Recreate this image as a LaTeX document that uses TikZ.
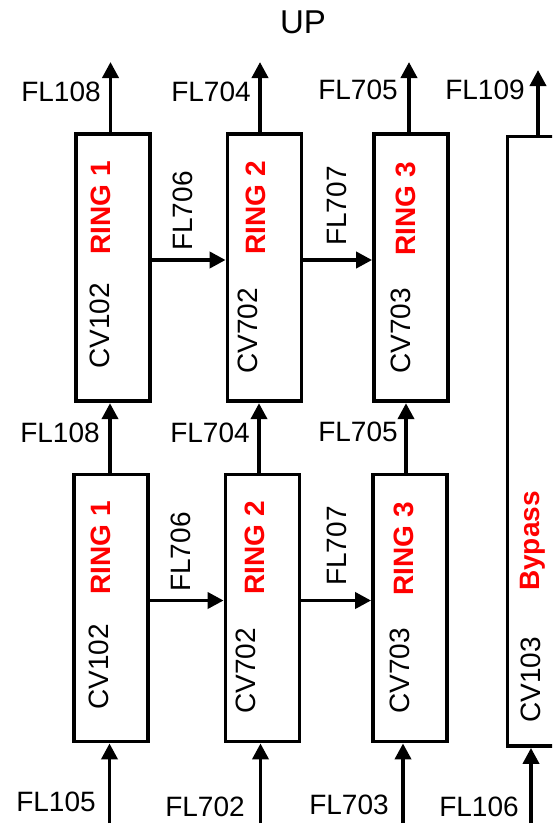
\documentclass[tikz,border=0pt]{standalone}
\usepackage{fontspec}
\setmainfont{Liberation Sans}
\usetikzlibrary{arrows.meta,calc}
\begin{document}
\begin{tikzpicture}[x=1pt,y=-1pt,
  box/.style={draw, line width=3.8pt, minimum width=74pt, minimum height=267pt, inner sep=0pt},
  lab/.style={font=\fontsize{28}{30}\selectfont, inner sep=0pt, text=black},
  vlab/.style={lab, rotate=90},
  ring/.style={font=\fontsize{28}{30}\selectfont\bfseries, text=red, rotate=90, inner sep=0pt},
  arr/.style={line width=3.8pt, -{Triangle[length=16pt,width=16pt]}},
]
\useasboundingbox (0,0) rectangle (552,825);
\clip (0,0) rectangle (552,825);

% boxes
\node[box] (t1) at (113,267.75) {};
\node[box] (t2) at (264.5,267.75) {};
\node[box] (t3) at (411,267.75) {};
\node[box] (b1) at (111,608) {};
\node[box] (b2) at (262.5,608) {};
\node[box] (b3) at (410,608) {};
\node[box, minimum width=150pt, minimum height=609.5pt] (bp) at (582.5,441.25) {};

% texts inside boxes
\node[ring] (r1t) at (101,208) {RING 1};
\node[vlab] (c1t) at (100,326) {CV102};
\node[ring] (r2t) at (256,208) {RING 2};
\node[vlab] (c2t) at (248,331) {CV702};
\node[ring] (r3t) at (406,209) {RING 3};
\node[vlab] (c3t) at (401,331) {CV703};
\node[ring] (r1b) at (101,548) {RING 1};
\node[vlab] (c1b) at (99,667) {CV102};
\node[ring] (r2b) at (255,548) {RING 2};
\node[vlab] (c2b) at (246,671) {CV702};
\node[ring] (r3b) at (404,549) {RING 3};
\node[vlab] (c3b) at (400,671) {CV703};
\node[ring] (rbp) at (533,541) {Bypass};
\node[vlab] (cbp) at (531,680) {CV103};

% title
\node[lab, font=\fontsize{33}{35}\selectfont] (up) at (303,22) {UP};

% free ends
\coordinate (o1) at (110.5,62);
\coordinate (o2) at (260,62);
\coordinate (o3) at (409,62);
\coordinate (o4) at (538,70);
\coordinate (m1) at (110,403);
\coordinate (m2) at (259,403);
\coordinate (m3) at (406,403);
\coordinate (i1) at (109.5,823);
\coordinate (i2) at (260.5,823);
\coordinate (i3) at (403,823);
\coordinate (i4) at (531,823);

% outputs
\draw[arr] (o1 |- t1.north) -- (o1);
\draw[arr] (o2 |- t2.north) -- (o2);
\draw[arr] (o3 |- t3.north) -- (o3);
\draw[arr] (o4 |- bp.north) -- (o4);
% middle
\draw[arr] (m1 |- b1.north) -- (m1 |- t1.south);
\draw[arr] (m2 |- b2.north) -- (m2 |- t2.south);
\draw[arr] (m3 |- b3.north) -- (m3 |- t3.south);
% inputs
\draw[arr] (i1) -- (i1 |- b1.south);
\draw[arr] (i2) -- (i2 |- b2.south);
\draw[arr] (i3) -- (i3 |- b3.south);
\draw[arr] (i4) -- (i4 |- bp.south);
% horizontal
\draw[arr] ([yshift=7.75pt]t1.east) -- ([yshift=7.75pt]t2.west);
\draw[arr] ([yshift=7.75pt]t2.east) -- ([yshift=7.75pt]t3.west);
\draw[arr] ([yshift=7.5pt]b1.east) -- ([yshift=7.5pt]b2.west);
\draw[arr] ([yshift=7.5pt]b2.east) -- ([yshift=7.5pt]b3.west);

% flow labels
\node[lab] (l108t) at (61,92) {FL108};
\node[lab] (l704t) at (211,92) {FL704};
\node[lab] (l705t) at (358,90) {FL705};
\node[lab] (l109t) at (485,90) {FL109};
\node[lab] (l108m) at (60,433) {FL108};
\node[lab] (l704m) at (210,433) {FL704};
\node[lab] (l705m) at (358,432) {FL705};
\node[lab] (l105) at (56,802) {FL105};
\node[lab] (l702) at (205,807) {FL702};
\node[lab] (l703) at (349,805) {FL703};
\node[lab] (l106) at (479,807) {FL106};
\node[vlab] (l706t) at (183,211) {FL706};
\node[vlab] (l707t) at (337,206) {FL707};
\node[vlab] (l706b) at (181,552) {FL706};
\node[vlab] (l707b) at (337,546) {FL707};
\end{tikzpicture}
\end{document}
